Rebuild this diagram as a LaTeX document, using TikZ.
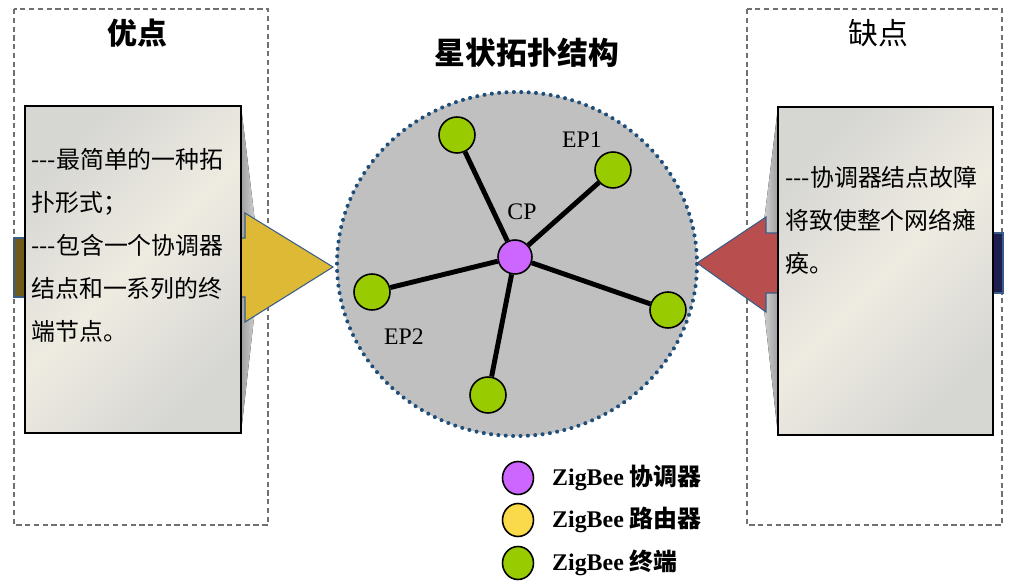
\documentclass[tikz,border=0pt]{standalone}
\usepackage{fontspec}
\setmainfont{Liberation Serif}
\newfontfamily\cjk{Noto Sans CJK SC}
\usetikzlibrary{shapes.geometric}

\definecolor{framegray}{HTML}{707070}
\definecolor{boxcream}{HTML}{EEEBE1}
\definecolor{boxgray}{HTML}{D6D6D3}
\definecolor{arrowgold}{HTML}{DEB935}
\definecolor{arrowolive}{HTML}{6E5B1C}
\definecolor{arrowred}{HTML}{B84E4E}
\definecolor{arrownavy}{HTML}{1F1F4F}
\definecolor{arrowedge}{HTML}{385D8A}
\definecolor{stargray}{HTML}{C0C0C0}
\definecolor{starborder}{HTML}{1F4E79}
\definecolor{endgreen}{HTML}{99CC00}
\definecolor{cppurple}{HTML}{CC66FF}
\definecolor{routeryellow}{HTML}{FADA4A}

\begin{document}
\begin{tikzpicture}[
        x=0.02cm, y=-0.02cm,
        frame/.style={draw=framegray, line width=0.6pt, dash pattern=on 3pt off 2pt},
        textbox/.style={draw=black, line width=0.8pt, left color=boxgray, right color=boxgray, middle color=boxcream, shading angle=45},
        bevel/.style={left color=gray!75, right color=gray!35, draw=none},
        gold/.style={fill=arrowgold, draw=arrowedge, line width=0.6pt},
        red/.style={fill=arrowred, draw=arrowedge, line width=0.6pt},
        boxtext/.style={anchor=north west, align=left, inner sep=0pt, font=\cjk\fontsize{13.6}{24.4}\selectfont},
        heading/.style={font=\cjk\fontsize{17}{20}\selectfont},
        endpoint/.style={circle, draw=black, line width=0.9pt, fill=endgreen, minimum size=0.72cm, inner sep=0pt},
        coordinator/.style={circle, draw=black, line width=0.9pt, fill=cppurple, minimum size=0.68cm, inner sep=0pt},
        link/.style={line width=2.8pt},
        tag/.style={font=\fontsize{13.5}{15}\selectfont},
        keydot/.style={ellipse, draw=black, line width=0.9pt, minimum width=0.62cm, minimum height=0.66cm, inner sep=0pt},
        keytext/.style={anchor=west, font=\fontsize{13.6}{15}\selectfont\bfseries},
    ]
        \useasboundingbox (0,0) rectangle (1018,585);

        \draw[frame] (14,9) rectangle (268,525);
        \draw[frame] (747,9) rectangle (1002,525);
        \node[heading, font=\cjk\bfseries\fontsize{17}{20}\selectfont] (proTitle) at (137,33) {优点};
        \node[heading] (conTitle) at (878,33) {缺点};
        \node[heading, font=\cjk\bfseries\fontsize{17.5}{20}\selectfont] (starTitle) at (527,53) {星状拓扑结构};

        \fill[bevel] (241,106) -- (256,230) -- (256,300) -- (241,433) -- cycle;
        \fill[bevel, left color=gray!35, right color=gray!75] (778,107) -- (763,230) -- (763,300) -- (778,435) -- cycle;

        \draw[gold] (14,238) -- (245,238) -- (245,213) -- (333,267) -- (245,322) -- (245,297) -- (14,297) -- cycle;
        \draw[fill=arrowolive, draw=arrowedge, line width=0.6pt] (14,238) rectangle (25,297);
        \draw[red] (1003,233) -- (766,233) -- (766,217) -- (697,263) -- (766,312) -- (766,293) -- (1003,293) -- cycle;
        \draw[fill=arrownavy, draw=arrowedge, line width=0.6pt] (993,233) rectangle (1003,293);

        \draw[textbox] (25,106) rectangle (241,433);
        \draw[textbox] (778,107) rectangle (993,435);
        \node[boxtext] (proText) at (31,148) {---最简单的一种拓\\扑形式；\\---包含一个协调器\\结点和一系列的终\\端节点。};
        \node[boxtext] (conText) at (785,166) {---协调器结点故障\\将致使整个网络瘫\\痪。};

        \fill[stargray] (517,264) ellipse [x radius=180, y radius=172];
        \draw[starborder, line width=2.3pt, line cap=round, dash pattern=on 0pt off 4.2pt] (517,264) ellipse [x radius=180, y radius=172];

        \node[coordinator] (cp) at (515,257) {};
        \node[endpoint] (epA) at (457,135) {};
        \node[endpoint] (epB) at (613,170) {};
        \node[endpoint] (epC) at (372,292) {};
        \node[endpoint] (epD) at (668,310) {};
        \node[endpoint] (epE) at (488,395) {};

        \draw[link] (cp) -- (epA);
        \draw[link] (cp) -- (epB);
        \draw[link] (cp) -- (epC);
        \draw[link] (cp) -- (epD);
        \draw[link] (cp) -- (epE);

        \node[tag] (cpTag) at (522,212) {CP};
        \node[tag] (ep1Tag) at (582,140) {EP1};
        \node[tag] (ep2Tag) at (404,337) {EP2};

        \node[keydot, fill=cppurple] (keyCoord) at (518,478) {};
        \node[keydot, fill=routeryellow] (keyRouter) at (518,520) {};
        \node[keydot, fill=endgreen] (keyEnd) at (518,563) {};
        \node[keytext] (keyCoordText) at (546,478) {ZigBee {\cjk 协调器}};
        \node[keytext] (keyRouterText) at (546,520) {ZigBee {\cjk 路由器}};
        \node[keytext] (keyEndText) at (546,563) {ZigBee {\cjk 终端}};
    \end{tikzpicture}
\end{document}
